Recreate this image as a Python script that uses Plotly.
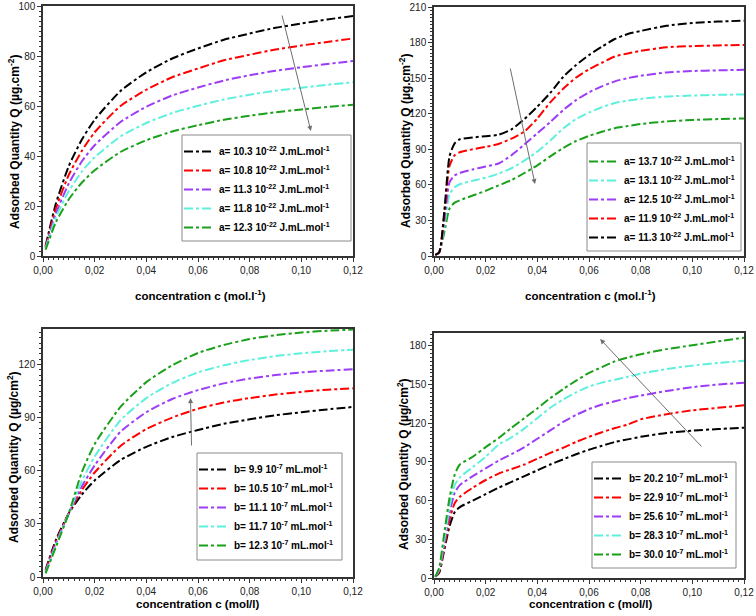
import plotly.graph_objects as go

W, H = 756, 616

# ---------------- data ----------------
# Panel A (top-left): effect of a
c_a = [0.001, 0.005, 0.01, 0.015, 0.02, 0.03, 0.04, 0.05, 0.06, 0.07, 0.08, 0.09, 0.10, 0.11, 0.12]
qa_103 = [4.0, 21.0, 36.0, 46.5, 54.5, 66.0, 73.5, 79.0, 83.0, 86.5, 89.0, 91.3, 93.0, 94.6, 96.0]
qa_108 = [3.5, 19.0, 32.5, 42.0, 49.5, 60.0, 66.5, 71.5, 75.0, 78.3, 80.5, 82.6, 84.2, 85.6, 87.0]
qa_113 = [3.2, 17.0, 29.0, 37.8, 44.3, 53.6, 59.7, 64.2, 67.4, 70.2, 72.3, 74.1, 75.5, 76.8, 78.0]
qa_118 = [3.0, 15.5, 26.0, 33.7, 39.5, 47.8, 53.2, 57.2, 60.1, 62.6, 64.5, 66.1, 67.3, 68.5, 69.5]
qa_123 = [2.5, 13.5, 22.7, 29.3, 34.3, 41.6, 46.3, 49.8, 52.3, 54.5, 56.1, 57.5, 58.6, 59.6, 60.5]
labels_a = ["a= 10.3 10<sup>-22</sup> J.mL.mol<sup>-1</sup>",
            "a= 10.8 10<sup>-22</sup> J.mL.mol<sup>-1</sup>",
            "a= 11.3 10<sup>-22</sup> J.mL.mol<sup>-1</sup>",
            "a= 11.8 10<sup>-22</sup> J.mL.mol<sup>-1</sup>",
            "a= 12.3 10<sup>-22</sup> J.mL.mol<sup>-1</sup>"]

# Panel B (top-right): effect of a (bilayer)
c_b = [0.0005, 0.002, 0.004, 0.006, 0.008, 0.01, 0.015, 0.02, 0.025, 0.03, 0.035, 0.04,
       0.045, 0.05, 0.055, 0.06, 0.065, 0.07, 0.075, 0.08, 0.09, 0.10, 0.11, 0.12]
qb_137 = [1, 3, 20, 40, 45, 47, 51, 55, 59.5, 64, 70, 76.5, 84, 91, 97, 101.3, 104.8, 107.8,
          109.6, 111.3, 113.5, 114.7, 115.5, 116]
qb_131 = [1, 3, 25, 52, 58, 60.5, 63.5, 66, 69.5, 74, 80.5, 88, 97.5, 107.5, 115.5, 121, 125.5,
          129, 131, 132.5, 134.5, 135.3, 135.9, 136.3]
qb_125 = [1, 3, 30, 62, 68, 70, 73, 75.5, 78, 85, 94, 103.5, 113, 123, 131.5, 138, 143, 147.3,
          150, 152, 154.8, 156, 156.6, 157]
qb_119 = [1, 3, 35, 76, 85, 87.5, 90, 92, 94.5, 99, 105, 116, 129.5, 141, 150.5, 157.5, 163,
          168.3, 170.8, 173, 176, 177, 177.6, 178]
qb_113 = [1, 3, 38, 84, 95, 98.5, 100, 101, 102.3, 106.8, 115.5, 126, 137.5, 151, 161, 169.5,
          176.5, 183, 187.2, 189.8, 194.2, 196.5, 197.7, 198.4]
labels_b = ["a= 13.7 10<sup>-22</sup> J.mL.mol<sup>-1</sup>",
            "a= 13.1 10<sup>-22</sup> J.mL.mol<sup>-1</sup>",
            "a= 12.5 10<sup>-22</sup> J.mL.mol<sup>-1</sup>",
            "a= 11.9 10<sup>-22</sup> J.mL.mol<sup>-1</sup>",
            "a= 11.3 10<sup>-22</sup> J.mL.mol<sup>-1</sup>"]

# Panel C (bottom-left): effect of b
c_c = [0.001, 0.005, 0.01, 0.015, 0.02, 0.03, 0.04, 0.05, 0.06, 0.07, 0.08, 0.09, 0.10, 0.11, 0.12]
qc_99 = [4.0, 21.0, 36.0, 46.5, 54.5, 66.0, 73.5, 79.0, 83.0, 86.5, 89.0, 91.3, 93.0, 94.6, 96.0]
qc_105 = [3.5, 20.0, 36.0, 49.0, 59.0, 74.0, 83.5, 90.0, 95.0, 98.5, 101.0, 103.0, 104.5, 105.7, 106.5]
qc_111 = [3.0, 19.0, 36.0, 51.0, 63.0, 82.0, 93.0, 100.5, 105.5, 109.3, 112.0, 114.0, 115.5, 116.5, 117.3]
qc_117 = [2.5, 18.0, 36.0, 54.0, 68.0, 88.5, 101.0, 109.5, 115.5, 119.5, 122.5, 124.7, 126.3, 127.5, 128.3]
qc_123 = [2.0, 17.0, 36.0, 59.0, 75.0, 96.0, 110.0, 119.5, 126.5, 131.0, 134.3, 136.5, 138.0, 139.0, 139.7]
labels_c = ["b= 9.9 10<sup>-7</sup> mL.mol<sup>-1</sup>",
            "b= 10.5 10<sup>-7</sup> mL.mol<sup>-1</sup>",
            "b= 11.1 10<sup>-7</sup> mL.mol<sup>-1</sup>",
            "b= 11.7 10<sup>-7</sup> mL.mol<sup>-1</sup>",
            "b= 12.3 10<sup>-7</sup> mL.mol<sup>-1</sup>"]

# Panel D (bottom-right): effect of b (bilayer)
c_d = [0.0005, 0.002, 0.004, 0.006, 0.008, 0.01, 0.015, 0.02, 0.025, 0.03, 0.035, 0.04,
       0.045, 0.05, 0.055, 0.06, 0.065, 0.07, 0.075, 0.08, 0.09, 0.10, 0.11, 0.12]
qd_202 = [1, 4, 22, 40, 51, 55, 60, 65, 70, 74.5, 79, 83.5, 88, 92, 96, 99.5, 102.5, 105.5,
          107.5, 109.5, 112.5, 114.3, 115.5, 116.6]
qd_229 = [1, 5, 24, 45, 58, 63, 70, 76, 81, 84.5, 88, 92.5, 97, 101, 105.5, 109.5, 113, 116.3,
          119, 123, 127, 130, 132, 133.9]
qd_256 = [1, 6, 27, 50, 66, 72, 79, 85, 91, 96, 101.5, 108, 114.5, 121, 126.5, 131, 134.5, 137,
          139.5, 141.5, 145, 148, 150, 151.5]
qd_283 = [1, 7, 30, 55, 72, 78, 86, 94, 103.4, 109, 116, 124, 132, 138.5, 144, 148.5, 151.5,
          153.8, 156, 158.5, 162, 164.7, 166.8, 168.5]
qd_300 = [1, 8, 35, 62, 80, 88, 94, 101.5, 108.5, 116.5, 124, 131.5, 139.5, 146.5, 153, 159,
          163.5, 168, 171, 173.5, 177.5, 180.5, 183.5, 186.4]
labels_d = ["b= 20.2 10<sup>-7</sup> mL.mol<sup>-1</sup>",
            "b= 22.9 10<sup>-7</sup> mL.mol<sup>-1</sup>",
            "b= 25.6 10<sup>-7</sup> mL.mol<sup>-1</sup>",
            "b= 28.3 10<sup>-7</sup> mL.mol<sup>-1</sup>",
            "b= 30.0 10<sup>-7</sup> mL.mol<sup>-1</sup>"]

x_ticks = [0.0, 0.02, 0.04, 0.06, 0.08, 0.10, 0.12]

# ---------------- styling ----------------
BLACK, RED, PURPLE, CYAN, GREEN = "#000000", "#ff0000", "#9d3cf6", "#5ef0dc", "#1aa01a"
FONT = "Arial, Liberation Sans, sans-serif"

def X(px):
    return px / W

def Y(py):
    return 1 - py / H

fig = go.Figure()

def add(x, y, name, color, xa, ya, leg):
    fig.add_trace(go.Scatter(x=x, y=y, name=name, mode="lines",
                             line=dict(color=color, width=2, dash="dashdot", shape="spline", smoothing=0.6),
                             xaxis=xa, yaxis=ya, legend=leg))

for q, lab, col in zip([qa_103, qa_108, qa_113, qa_118, qa_123], labels_a,
                       [BLACK, RED, PURPLE, CYAN, GREEN]):
    add(c_a, q, lab, col, "x", "y", "legend")
for q, lab, col in zip([qb_137, qb_131, qb_125, qb_119, qb_113], labels_b,
                       [GREEN, CYAN, PURPLE, RED, BLACK]):
    add(c_b, q, lab, col, "x2", "y2", "legend2")
for q, lab, col in zip([qc_99, qc_105, qc_111, qc_117, qc_123], labels_c,
                       [BLACK, RED, PURPLE, CYAN, GREEN]):
    add(c_c, q, lab, col, "x3", "y3", "legend3")
for q, lab, col in zip([qd_202, qd_229, qd_256, qd_283, qd_300], labels_d,
                       [BLACK, RED, PURPLE, CYAN, GREEN]):
    add(c_d, q, lab, col, "x4", "y4", "legend4")

def xaxis(dom, anchor):
    return dict(domain=dom, anchor=anchor, range=[0, 0.12], tickvals=x_ticks, tickformat=".2f",
                showline=True, linecolor="#333", linewidth=1.5, mirror=True,
                ticks="outside", ticklen=4, tickwidth=1, tickcolor="#333",
                minor=dict(dtick=0.002, ticks="outside", ticklen=2, tickcolor="#333", tick0=0),
                showgrid=False, zeroline=False, automargin=False,
                tickfont=dict(size=10, family=FONT, color="#222"))

def yaxis(dom, anchor, rng, dt, mdt):
    return dict(domain=dom, anchor=anchor, range=rng, dtick=dt, tick0=0,
                showline=True, linecolor="#333", linewidth=1.5, mirror=True,
                ticks="outside", ticklen=4, tickwidth=1, tickcolor="#333",
                minor=dict(dtick=mdt, ticks="outside", ticklen=2, tickcolor="#333", tick0=0),
                showgrid=False, zeroline=False, automargin=False,
                tickfont=dict(size=10, family=FONT, color="#222"))

def legend(xp, yp):
    return dict(x=X(xp), y=Y(yp), xanchor="left", yanchor="top",
                borderwidth=0, bgcolor="rgba(0,0,0,0)",
                font=dict(size=10, family=FONT, color="black", weight="bold"),
                tracegroupgap=0, itemwidth=30)

# legend boxes (pixels): left, top, right, bottom
boxes = [(182, 135, 351, 241), (587, 143, 741, 251), (197, 453, 342, 560), (592, 462, 736, 568)]

fig.update_layout(
    width=W, height=H, margin=dict(l=0, r=0, t=0, b=0, autoexpand=False),
    paper_bgcolor="white", plot_bgcolor="white",
    separators=",.",
    xaxis=xaxis([X(43), X(353)], "y"),
    yaxis=yaxis([Y(256), Y(6)], "x", [0, 100], 20, 2),
    xaxis2=xaxis([X(434), X(744)], "y2"),
    yaxis2=yaxis([Y(256), Y(7)], "x2", [0, 210], 30, 3),
    xaxis3=xaxis([X(43), X(353)], "y3"),
    yaxis3=yaxis([Y(577), Y(329)], "x3", [0, 140], 30, 3),
    xaxis4=xaxis([X(434), X(744)], "y4"),
    yaxis4=yaxis([Y(578), Y(333)], "x4", [0, 190], 30, 3),
    legend=legend(boxes[0][0] - 3, boxes[0][1] + 2),
    legend2=legend(boxes[1][0] - 3, boxes[1][1] + 4),
    legend3=legend(boxes[2][0] - 3, boxes[2][1] + 2),
    legend4=legend(boxes[3][0] - 3, boxes[3][1] + 2),
    showlegend=True,
)

for (l, t, r, b) in boxes:
    fig.add_shape(type="rect", xref="paper", yref="paper", x0=X(l), x1=X(r), y0=Y(b), y1=Y(t),
                  line=dict(color="#8a8a8a", width=1), fillcolor="white", layer="above")

# axis titles as annotations
ytitle_top = "<b>Adsorbed Quantity Q (µg.cm<sup>-2</sup>)</b>"
ytitle_bot = "<b>Adsorbed Quantity Q (µg/cm<sup>2</sup>)</b>"
xtitle_top = "<b>concentration c (mol.l<sup>-1</sup>)</b>"
xtitle_bot = "<b>concentration c (mol/l)</b>"
titles = [
    (ytitle_top, 14, 142, -90, 12), (ytitle_top, 405, 141, -90, 12),
    (ytitle_bot, 13, 457, -90, 12), (ytitle_bot, 403, 464, -90, 12),
    (xtitle_top, 200, 295, 0, 11.5), (xtitle_top, 590, 295, 0, 11.5),
    (xtitle_bot, 197, 604, 0, 11.5), (xtitle_bot, 590, 604, 0, 11.5),
]
for txt, xp, yp, ang, fs in titles:
    fig.add_annotation(text=txt, xref="paper", yref="paper", x=X(xp), y=Y(yp),
                       xanchor="center", yanchor="middle", showarrow=False, textangle=ang,
                       font=dict(size=fs, family=FONT, color="black"))

# arrows (head at x,y ; tail at ax,ay) in data coordinates
arrows = [
    ("x", "y", 0.1037, 50.0, 0.0924, 96.8),
    ("x2", "y2", 0.0391, 60.7, 0.0294, 159.4),
    ("x3", "y3", 0.0571, 101.0, 0.0575, 73.4),
    ("x4", "y4", 0.0643, 185.3, 0.1041, 100.8),
]
for xr, yr, hx, hy, tx, ty in arrows:
    fig.add_annotation(x=hx, y=hy, ax=tx, ay=ty, xref=xr, yref=yr, axref=xr, ayref=yr,
                       showarrow=True, arrowhead=2, arrowsize=1, arrowwidth=1,
                       arrowcolor="#6e6e6e", text="")

fig.write_html("out.html", config={"displayModeBar": False},
               post_script="document.body.style.margin='0';document.body.style.overflow='hidden';")
